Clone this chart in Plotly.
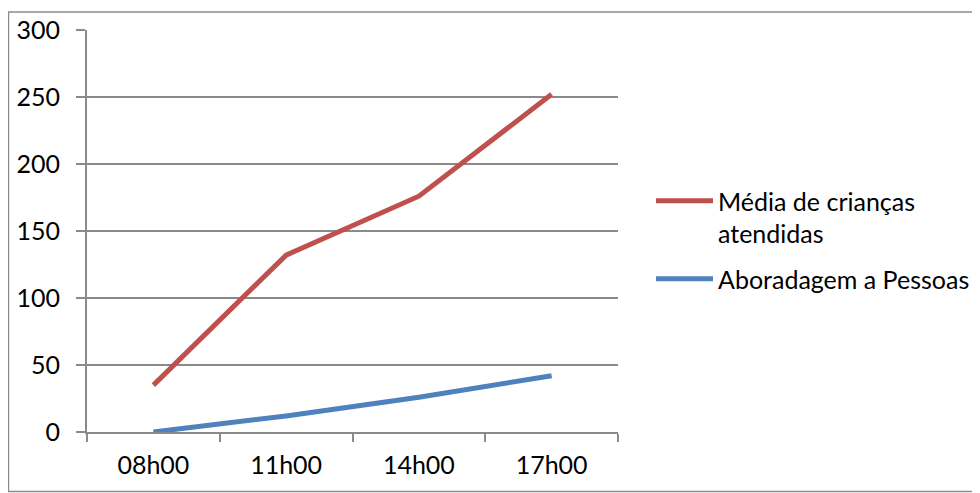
import plotly.graph_objects as go

categories = ["08h00", "11h00", "14h00", "17h00"]
media_criancas = [35, 132, 176, 252]
aboradagem = [0, 12, 26, 42]
series_names = ["Média de crianças<br>atendidas", "Aboradagem a Pessoas"]
y_ticks = [0, 50, 100, 150, 200, 250, 300]

FONT = "Lato"
GRID = "#8a8a8a"
FS = 25

fig = go.Figure()
fig.add_trace(go.Scatter(x=categories, y=media_criancas, mode="lines",
                         name=series_names[0], legendgroup="a",
                         line=dict(color="#C0504D", width=5)))
fig.add_trace(go.Scatter(x=categories, y=aboradagem, mode="lines",
                         name=series_names[1], legendgroup="b",
                         line=dict(color="#4F81BD", width=5)))

OFF = 8  # page offset of the figure in the screenshot
W, H = 980 - OFF, 493 - OFF
L, T = 87 - OFF, 30 - OFF
R = (W + OFF) - 618
B = (H + OFF) - 432
pw, ph = 618 - 87, 432 - 30

fig.update_layout(
    width=W, height=H,
    margin=dict(l=L, r=R, t=T, b=B, autoexpand=False),
    paper_bgcolor="white", plot_bgcolor="white",
    font=dict(family=FONT, size=FS, color="black"),
    showlegend=True,
    legend=dict(x=(651 - 87) / pw, y=(432 - 240) / ph, xanchor="left", yanchor="middle",
                font=dict(family=FONT, size=FS, color="black"),
                traceorder="grouped", tracegroupgap=10, itemwidth=57,
                valign="top", bgcolor="rgba(0,0,0,0)"),
    xaxis=dict(type="category", range=[-0.5, 3.5], tickson="boundaries",
               ticks="outside", ticklen=8, tickcolor=GRID, tickwidth=2,
               showline=True, linecolor=GRID, linewidth=2,
               showgrid=False, zeroline=False, ticklabelstandoff=10,
               tickfont=dict(family=FONT, size=FS, color="black")),
    yaxis=dict(range=[0, 300], tickvals=y_ticks, ticks="outside", ticklen=9,
               tickcolor=GRID, tickwidth=2, showline=True, linecolor=GRID,
               linewidth=2, showgrid=True, gridcolor=GRID, gridwidth=2,
               zeroline=False, ticklabelstandoff=11,
               tickfont=dict(family=FONT, size=FS, color="black")),
)

# outer border around the chart area
fig.add_shape(type="rect", xref="paper", yref="paper",
              x0=(8.5 - 87) / pw, x1=(978.5 - 87) / pw,
              y0=(432 - 491.5) / ph, y1=(432 - 12) / ph,
              line=dict(color="#8c8c8c", width=1.5), layer="below")

fig.write_html("out.html")
